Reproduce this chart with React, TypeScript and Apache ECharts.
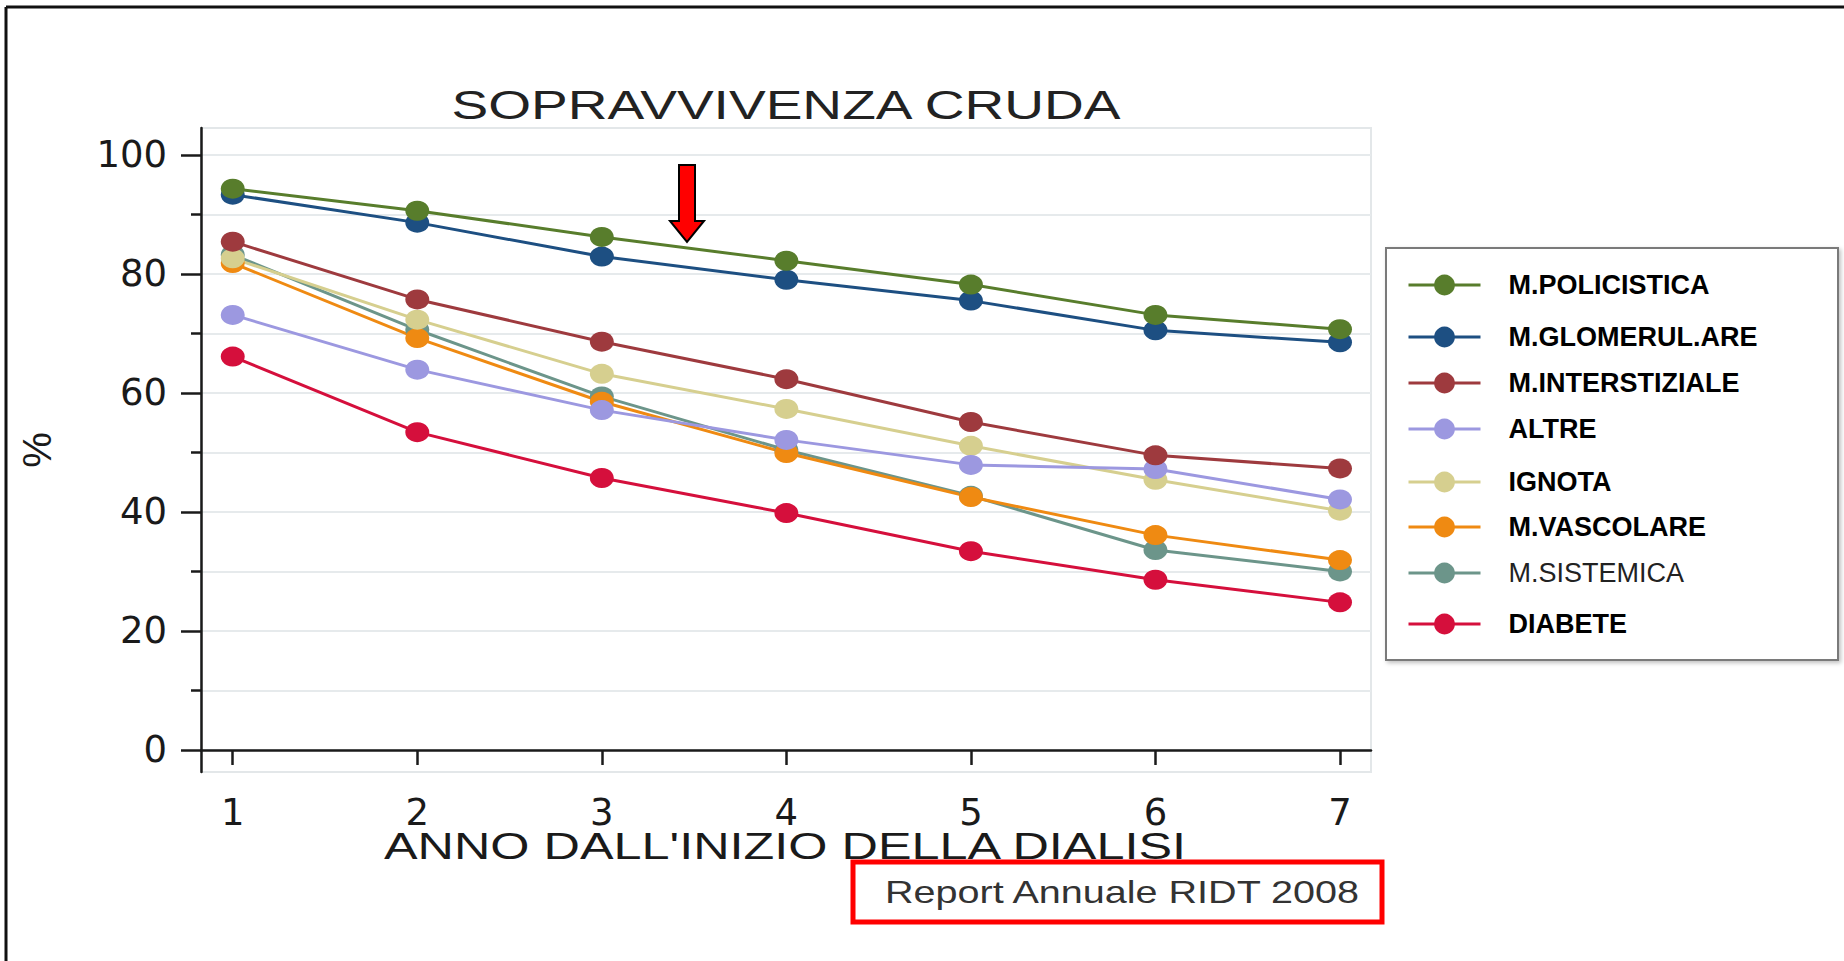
import React, { useEffect, useRef } from "react";
import * as echarts from "echarts";

const years = [1, 2, 3, 4, 5, 6, 7];
const seriesNames = [
  "M.POLICISTICA",
  "M.GLOMERUL.ARE",
  "M.INTERSTIZIALE",
  "ALTRE",
  "IGNOTA",
  "M.VASCOLARE",
  "M.SISTEMICA",
  "DIABETE",
];
const policistica = [94.3, 90.6, 86.2, 82.2, 78.2, 73.1, 70.7];
const glomerulare = [93.3, 88.6, 82.9, 79.0, 75.5, 70.5, 68.5];
const interstiziale = [85.4, 75.7, 68.6, 62.3, 55.1, 49.5, 47.3];
const altre = [73.1, 63.9, 57.1, 52.1, 47.9, 47.2, 42.1];
const ignota = [82.6, 72.3, 63.2, 57.3, 51.1, 45.4, 40.2];
const vascolare = [81.8, 69.2, 58.5, 49.9, 42.5, 36.1, 31.9];
const sistemica = [83.2, 70.6, 59.4, 50.4, 42.7, 33.6, 30.0];
const diabete = [66.1, 53.4, 45.7, 39.8, 33.4, 28.6, 24.8];
const yTickValues = [0, 20, 40, 60, 80, 100];
const xTickValues = [1, 2, 3, 4, 5, 6, 7];

const titleText = "SOPRAVVIVENZA CRUDA";
const xAxisTitle = "ANNO DALL'INIZIO DELLA DIALISI";
const yAxisTitle = "%";
const sourceText = "Report Annuale RIDT 2008";

const seriesValues = [
  policistica,
  glomerulare,
  interstiziale,
  altre,
  ignota,
  vascolare,
  sistemica,
  diabete,
];
const seriesColors = [
  "#587d2c",
  "#1d4f82",
  "#9e3a3e",
  "#9c98e0",
  "#d6cf8f",
  "#ef8a12",
  "#6c958a",
  "#d50f3c",
];
const legendCenters = [285, 337, 383, 429, 482, 527, 573, 624];

export default function App() {
  const ref = useRef<HTMLDivElement | null>(null);

  useEffect(() => {
    if (!ref.current) return;
    const chart = echarts.init(ref.current, null, { renderer: "svg" });

    const series = seriesNames
      .map((name, i) => ({
        name,
        type: "line",
        symbol: "circle",
        symbolSize: [24, 20],
        data: years.map((x, j) => [x, seriesValues[i][j]]),
        lineStyle: { color: seriesColors[i], width: 3 },
        itemStyle: { color: seriesColors[i] },
        emphasis: { disabled: true },
      }))
      .reverse();

    const legends = seriesNames.map((name, i) => ({
      data: [name],
      left: 1407,
      top: legendCenters[i] - 15,
      orient: "vertical",
      padding: 0,
      itemGap: 0,
      itemWidth: 72,
      itemHeight: 26,
      lineStyle: { width: 3 },
      textStyle: {
        fontFamily: "Liberation Sans, Arial, sans-serif",
        fontSize: 27,
        fontWeight: name === "M.SISTEMICA" ? "normal" : "bold",
        color: name === "M.SISTEMICA" ? "#222" : "#000",
        padding: [0, 0, 0, 23],
        lineHeight: 30,
      },
    }));

    const option = {
      animation: false,
      backgroundColor: "#ffffff",
      grid: {
        left: 201,
        top: 128,
        width: 1170,
        height: 644,
        show: true,
        borderColor: "#e3e7e9",
        borderWidth: 2,
        backgroundColor: "transparent",
      },
      legend: legends,
      xAxis: {
        type: "value",
        min: 0.828,
        max: 7.168,
        axisLine: { show: true, lineStyle: { color: "#1a1a1a", width: 2.5 } },
        axisTick: {
          show: true,
          customValues: xTickValues,
          length: 15,
          lineStyle: { color: "#1a1a1a", width: 2.5 },
        },
        axisLabel: {
          customValues: xTickValues,
          margin: 22,
          fontFamily: "DejaVu Sans, sans-serif",
          fontSize: 37,
          color: "#1a1a1a",
        },
        splitLine: { show: false },
      },
      yAxis: {
        type: "value",
        min: -3.7,
        max: 104.5,
        splitNumber: 5,
        name: yAxisTitle,
        nameLocation: "middle",
        nameRotate: 90,
        nameGap: 144,
        nameTextStyle: {
          fontFamily: "Liberation Sans, Arial, sans-serif",
          fontSize: 40,
          color: "#1a1a1a",
        },
        axisLine: { show: true, lineStyle: { color: "#1a1a1a", width: 2.5 } },
        axisTick: {
          show: true,
          customValues: yTickValues,
          length: 20,
          lineStyle: { color: "#1a1a1a", width: 2.5 },
        },
        minorTick: {
          show: true,
          splitNumber: 2,
          length: 10,
          lineStyle: { color: "#1a1a1a", width: 2.5 },
        },
        axisLabel: {
          customValues: yTickValues,
          margin: 34,
          fontFamily: "DejaVu Sans, sans-serif",
          fontSize: 37,
          color: "#1a1a1a",
        },
        splitLine: { show: true, lineStyle: { color: "#e6eaec", width: 2 } },
        minorSplitLine: { show: true, lineStyle: { color: "#e6eaec", width: 2 } },
      },
      series,
      graphic: [
        {
          type: "line",
          shape: { x1: 6, y1: 7, x2: 1844, y2: 7 },
          style: { stroke: "#111", lineWidth: 3 },
        },
        {
          type: "line",
          shape: { x1: 6, y1: 7, x2: 6, y2: 961 },
          style: { stroke: "#111", lineWidth: 3 },
        },
        {
          type: "text",
          x: 786,
          y: 105,
          scaleX: 1.377,
          style: {
            text: titleText,
            x: 0,
            y: 0,
            align: "center",
            verticalAlign: "middle",
            font: "40px 'Liberation Sans', Arial, sans-serif",
            fill: "#222",
          },
        },
        {
          type: "text",
          x: 785,
          y: 846,
          scaleX: 1.4,
          style: {
            text: xAxisTitle,
            x: 0,
            y: 0,
            align: "center",
            verticalAlign: "middle",
            font: "36px 'Liberation Sans', Arial, sans-serif",
            fill: "#1a1a1a",
          },
        },
        {
          type: "rect",
          shape: { x: 853, y: 862, width: 529, height: 60 },
          style: { fill: "transparent", stroke: "#ff0000", lineWidth: 5 },
        },
        {
          type: "text",
          x: 1122,
          y: 892,
          scaleX: 1.236,
          style: {
            text: sourceText,
            x: 0,
            y: 0,
            align: "center",
            verticalAlign: "middle",
            font: "32px 'Liberation Sans', Arial, sans-serif",
            fill: "#333",
          },
        },
        {
          type: "rect",
          shape: { x: 1386, y: 248, width: 452, height: 412 },
          style: {
            fill: "#ffffff",
            stroke: "#7a7a7a",
            lineWidth: 2,
            shadowBlur: 4,
            shadowOffsetX: 2,
            shadowOffsetY: 2,
            shadowColor: "rgba(0,0,0,0.25)",
          },
          z: -1,
        },
        {
          type: "polygon",
          shape: {
            points: [
              [679, 165],
              [695, 165],
              [695, 221],
              [704, 221],
              [687, 242],
              [670, 221],
              [679, 221],
            ],
          },
          style: { fill: "#ff0000", stroke: "#000", lineWidth: 2 },
          z: 10,
        },
      ],
    };

    chart.setOption(option as any);
    return () => {
      chart.dispose();
    };
  }, []);

  return (
    <div
      ref={ref}
      style={{
        position: "fixed",
        left: 0,
        top: 0,
        width: "1844px",
        height: "961px",
        background: "#fff",
      }}
    />
  );
}
